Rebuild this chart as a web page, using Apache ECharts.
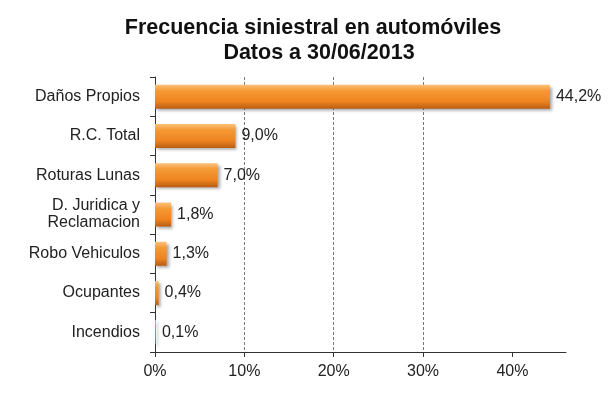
<!DOCTYPE html>
<html>
<head>
<meta charset="utf-8">
<script src="https://cdn.jsdelivr.net/npm/echarts@6/dist/echarts.min.js"></script>
<style>html,body{margin:0;padding:0;background:#fff}#c{width:614px;height:396px}</style>
</head>
<body>
<div id="c"></div>
<script>
const categories = ["Daños Propios", "R.C. Total", "Roturas Lunas", "D. Juridica y\nReclamacion", "Robo Vehiculos", "Ocupantes", "Incendios"];
const values = [44.2, 9.0, 7.0, 1.8, 1.3, 0.4, 0.1];
const xTicks = [0, 10, 20, 30, 40];
const titleLines = ["Frecuencia siniestral en automóviles", "Datos a 30/06/2013"];

const chart = echarts.init(document.getElementById('c'), null, {renderer: 'canvas'});
const font = 'Arial, "Liberation Sans", sans-serif';
const titleStyle = {fontFamily: font, fontSize: 21.5, fontWeight: 'bold', color: '#111', lineHeight: 25};
chart.setOption({
  animation: false,
  backgroundColor: '#fff',
  title: [
    {text: titleLines[0], left: 308, top: 11, textAlign: 'center', textStyle: titleStyle},
    {text: titleLines[1], left: 314, top: 36, textAlign: 'center', textStyle: titleStyle}
  ],
  grid: {left: 155, right: 48, top: 77, bottom: 44, containLabel: false},
  xAxis: {
    type: 'value', min: 0, max: 46, interval: 10,
    axisLine: {show: true, lineStyle: {color: '#333', width: 1}},
    axisTick: {show: true, length: 5, customValues: xTicks, lineStyle: {color: '#333'}},
    axisLabel: {customValues: xTicks, formatter: v => v + '%', fontFamily: font, fontSize: 16, color: '#222', margin: 12},
    splitLine: {show: true, showMinLine: false, showMaxLine: false, lineStyle: {color: '#777', type: [3, 2], width: 1}}
  },
  yAxis: {
    type: 'category', data: categories, inverse: true,
    axisLine: {show: true, lineStyle: {color: '#333', width: 1}},
    axisTick: {show: true, length: 5, lineStyle: {color: '#333'}},
    axisLabel: {fontFamily: font, fontSize: 16, color: '#222', margin: 15, lineHeight: 17, align: 'right'}
  },
  series: [{
    type: 'bar', data: values, barWidth: 24,
    itemStyle: {
      color: new echarts.graphic.LinearGradient(0, 0, 0, 1, [
        {offset: 0, color: '#fcc27a'},
        {offset: 0.25, color: '#f59a35'},
        {offset: 0.7, color: '#ee8420'},
        {offset: 1, color: '#b95e12'}
      ]),
      shadowBlur: 3, shadowOffsetX: 2, shadowOffsetY: 2, shadowColor: 'rgba(0,0,0,0.35)'
    },
    label: {
      show: true, position: 'right', distance: 6,
      formatter: p => p.value.toFixed(1).replace('.', ',') + '%',
      fontFamily: font, fontSize: 16, color: '#222'
    }
  }]
});
</script>
</body>
</html>
